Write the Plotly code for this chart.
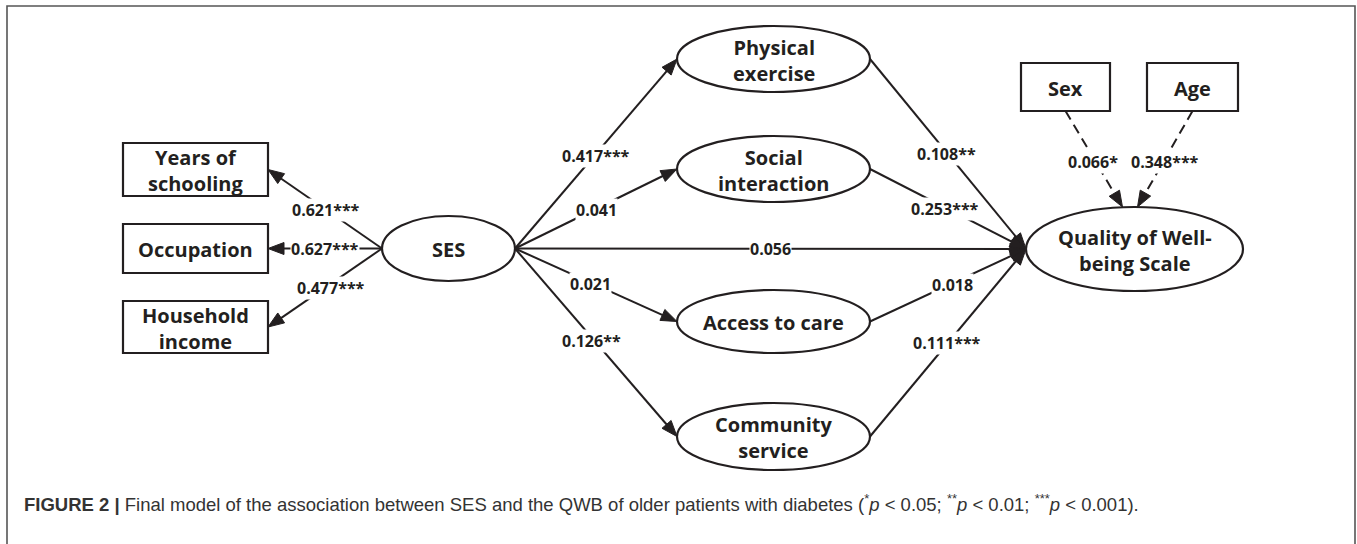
import math
import plotly.graph_objects as go

# ---------------- data ----------------
indicator_names = ["Years of<br>schooling", "Occupation", "Household<br>income"]
indicator_loadings = ["0.621***", "0.627***", "0.477***"]

mediator_names = ["Physical<br>exercise", "Social<br>interaction", "Access to care", "Community<br>service"]
ses_to_mediator = ["0.417***", "0.041", "0.021", "0.126**"]
mediator_to_qwb = ["0.108**", "0.253***", "0.018", "0.111***"]
direct_effect = "0.056"

covariate_names = ["Sex", "Age"]
covariate_effects = ["0.066*", "0.348***"]

ses_name = "SES"
outcome_name = "Quality of Well-<br>being Scale"
caption = ("<b>FIGURE 2 |</b> Final model of the association between SES and the QWB of older patients "
           "with diabetes (<sup>*</sup><i>p</i> &lt; 0.05; <sup>**</sup><i>p</i> &lt; 0.01; "
           "<sup>***</sup><i>p</i> &lt; 0.001).")

# ---------------- layout geometry (pixels) ----------------
W, H = 1357, 544
INK = "#231f20"
box_geo = {  # cx, cy, w, h
    0: (195.5, 169.5, 145, 53),
    1: (195.5, 248.5, 145, 49),
    2: (195.5, 327.0, 145, 52),
}
cov_geo = {0: (1065.5, 87, 89, 48), 1: (1192.5, 87, 91, 48)}
ses_geo = (448.5, 248.5, 66.5, 32.5)
med_geo = [(773.5, 59, 96.5, 33), (773.5, 169, 96.5, 33), (773.5, 321.5, 96.5, 31.5), (773.5, 436.5, 96.5, 33.5)]
qwb_geo = (1134.5, 249, 108.5, 42)

shapes = []
annotations = []


def add_box(cx, cy, w, h):
    shapes.append(dict(type="rect", xref="x", yref="y", x0=cx - w / 2, x1=cx + w / 2,
                       y0=cy - h / 2, y1=cy + h / 2, line=dict(color=INK, width=2.2)))


def add_ellipse(cx, cy, rx, ry):
    shapes.append(dict(type="circle", xref="x", yref="y", x0=cx - rx, x1=cx + rx,
                       y0=cy - ry, y1=cy + ry, line=dict(color=INK, width=2.2)))


def add_arrow(p0, p1, dash=None, L=16, hw=6):
    dx, dy = p1[0] - p0[0], p1[1] - p0[1]
    d = math.hypot(dx, dy)
    ux, uy = dx / d, dy / d
    bx, by = p1[0] - ux * L, p1[1] - uy * L
    ex, ey = p1[0] - ux * L * 0.6, p1[1] - uy * L * 0.6
    line = dict(color=INK, width=2)
    if dash:
        line["dash"] = dash
    shapes.append(dict(type="line", xref="x", yref="y", x0=p0[0], y0=p0[1], x1=ex, y1=ey, line=line))
    px, py = -uy, ux
    path = (f"M {p1[0]:.2f},{p1[1]:.2f} L {bx + px * hw:.2f},{by + py * hw:.2f} "
            f"L {bx - px * hw:.2f},{by - py * hw:.2f} Z")
    shapes.append(dict(type="path", xref="x", yref="y", path=path, fillcolor=INK,
                       line=dict(color=INK, width=1)))


def add_label(p0, p1, text, t=0.5, dx=0, dy=0, size=16):
    x = p0[0] + (p1[0] - p0[0]) * t + dx
    y = p0[1] + (p1[1] - p0[1]) * t + dy
    annotations.append(dict(x=x, y=y, xref="x", yref="y", text=f"<b>{text}</b>", showarrow=False,
                            bgcolor="white", borderpad=0,
                            font=dict(family="Open Sans", size=size, color=INK)))


def node_text(cx, cy, text, size=20):
    annotations.append(dict(x=cx, y=cy, xref="x", yref="y", text=f"<b>{text}</b>", showarrow=False,
                            font=dict(family="Open Sans", size=size, color=INK)))


# frame
shapes.append(dict(type="rect", xref="x", yref="y", x0=7, x1=1355, y0=6, y1=560,
                   line=dict(color="#555555", width=1.6)))

ses_left = (ses_geo[0] - ses_geo[2], ses_geo[1])
ses_right = (ses_geo[0] + ses_geo[2], ses_geo[1])
qwb_left = (qwb_geo[0] - qwb_geo[2], qwb_geo[1])

# SES -> indicators
for i, (name, lab) in enumerate(zip(indicator_names, indicator_loadings)):
    cx, cy, w, h = box_geo[i]
    add_box(cx, cy, w, h)
    end = (cx + w / 2, cy)
    add_arrow(ses_left, end)
    add_label(ses_left, end, lab, t=[0.49, 0.5, 0.5][i], dx=[0, 0, 6][i])

# SES -> mediators
for i, (name, lab) in enumerate(zip(mediator_names, ses_to_mediator)):
    cx, cy, rx, ry = med_geo[i]
    add_ellipse(cx, cy, rx, ry)
    end = (cx - rx, cy)
    add_arrow(ses_right, end)
    add_label(ses_right, end, lab, t=0.49, dx=[2, 2, -4, -3][i])

# direct effect
add_arrow(ses_right, qwb_left)
add_label(ses_right, qwb_left, direct_effect, t=0.5)

# mediators -> QWB
for i, lab in enumerate(mediator_to_qwb):
    cx, cy, rx, ry = med_geo[i]
    start = (cx + rx, cy)
    add_arrow(start, qwb_left)
    add_label(start, qwb_left, lab, t=0.5, dx=[-2, -3, 4, -1][i])

# covariates -> QWB (dashed)
cov_ends = [(qwb_geo[0] - 12, qwb_geo[1] - qwb_geo[3]), (qwb_geo[0] + 3, qwb_geo[1] - qwb_geo[3])]
for i, (name, lab) in enumerate(zip(covariate_names, covariate_effects)):
    cx, cy, w, h = cov_geo[i]
    add_box(cx, cy, w, h)
    start = (cx, cy + h / 2)
    add_arrow(start, cov_ends[i], dash="10px,6px")
    add_label(start, cov_ends[i], lab, t=0.53, dx=[-3, 2][i])

add_ellipse(*ses_geo)
add_ellipse(*qwb_geo)

# node texts
for i, name in enumerate(indicator_names):
    node_text(box_geo[i][0], box_geo[i][1] + 1, name)
for i, name in enumerate(mediator_names):
    node_text(med_geo[i][0], med_geo[i][1] + 1, name)
for i, name in enumerate(covariate_names):
    node_text(cov_geo[i][0], cov_geo[i][1] + 1, name)
node_text(ses_geo[0], ses_geo[1] + 1, ses_name)
node_text(qwb_geo[0], qwb_geo[1] + 1, outcome_name)

annotations.append(dict(x=22, y=503, xref="x", yref="y", xanchor="left", yanchor="middle",
                        text=caption, showarrow=False,
                        font=dict(family="Liberation Sans", size=18.5, color="#333333")))

fig = go.Figure(go.Scatter(x=[], y=[]))
fig.update_layout(
    width=W, height=H, margin=dict(l=0, r=0, t=0, b=0),
    paper_bgcolor="white", plot_bgcolor="white", showlegend=False,
    xaxis=dict(range=[0, W], visible=False, fixedrange=True),
    yaxis=dict(range=[H, 0], visible=False, fixedrange=True),
    shapes=shapes, annotations=annotations,
)
fig.write_html("out.html", config={"displayModeBar": False},
               post_script="document.body.style.margin='0';document.body.style.overflow='hidden';")
